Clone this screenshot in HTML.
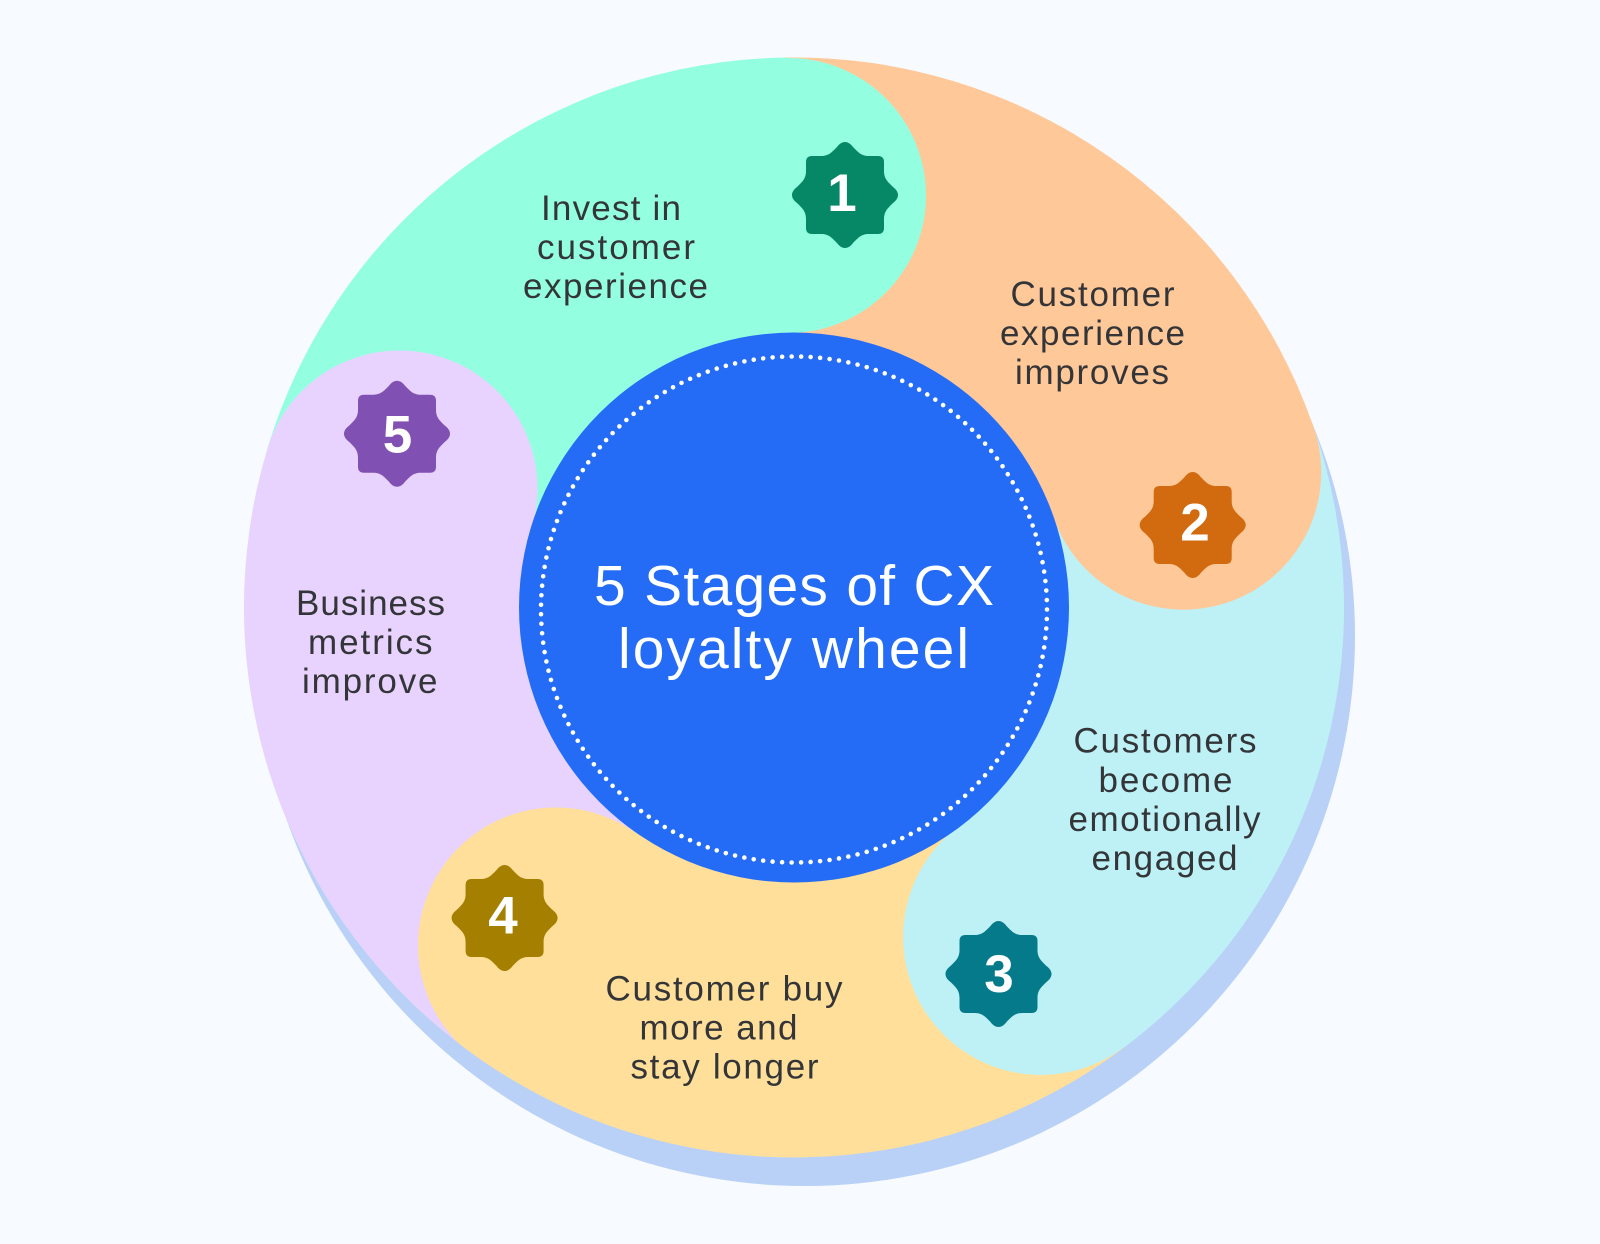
<!DOCTYPE html>
<html>
<head>
<meta charset="utf-8">
<style>
html,body{margin:0;padding:0;background:#f7faff;}
svg{display:block;}
text{font-family:"Liberation Sans",sans-serif;}
.l{font-size:35px;fill:#333538;}
.t{font-size:57px;fill:#ffffff;}
.n{font-size:53px;font-weight:bold;fill:#ffffff;text-anchor:middle;}
</style>
</head>
<body>
<svg width="1600" height="1244" viewBox="0 0 1600 1244" xmlns="http://www.w3.org/2000/svg">
<defs>
<clipPath id="c"><circle cx="794" cy="607.5" r="550"/></clipPath>
<path id="b" d="M0,-53 C2.5,-53 5.5,-51.5 8,-48 C13,-43 16,-39 24,-39 H33 Q39,-39 39,-33 V-24 C39,-16 43,-13 48,-8 C51.5,-5.5 53,-2.5 53,0 C53,2.5 51.5,5.5 48,8 C43,13 39,16 39,24 V33 Q39,39 33,39 H24 C16,39 13,43 8,48 C5.5,51.5 2.5,53 0,53 C-2.5,53 -5.5,51.5 -8,48 C-13,43 -16,39 -24,39 H-33 Q-39,39 -39,33 V24 C-39,16 -43,13 -48,8 C-51.5,5.5 -53,2.5 -53,0 C-53,-2.5 -51.5,-5.5 -48,-8 C-43,-13 -39,-16 -39,-24 V-33 Q-39,-39 -33,-39 H-24 C-16,-39 -13,-43 -8,-48 C-5.5,-51.5 -2.5,-53 0,-53 Z"/>
</defs>
<rect width="1600" height="1244" fill="#f7faff"/>
<circle cx="805" cy="636" r="550" fill="#b9d1f7"/>

<path d="M794,607.5 L786.7,57.5 A550,550 0 0 1 1313.5,426.8 Z" fill="#ffc898"/>
<path d="M794,607.5 L1313.5,426.8 A550,550 0 0 1 1123.9,1047.6 Z" fill="#bdf1f5"/>
<path d="M794,607.5 L1123.9,1047.6 A550,550 0 0 1 477.4,1057.2 Z" fill="#ffdf99"/>
<path d="M794,607.5 L477.4,1057.2 A550,550 0 0 1 267.4,448.7 Z" fill="#e7d3fe"/>
<path d="M794,607.5 L267.4,448.7 A550,550 0 0 1 786.7,57.5 Z" fill="#94ffe0"/>

<g clip-path="url(#c)">
<circle cx="788.5" cy="195.5" r="137.5" fill="#94ffe0"/>
<circle cx="1183.5" cy="472" r="137.7" fill="#ffc898"/>
<circle cx="1041" cy="937" r="137.9" fill="#bdf1f5"/>
<circle cx="556" cy="945.5" r="138" fill="#ffdf99"/>
<circle cx="399.5" cy="488.5" r="138" fill="#e7d3fe"/>
</g>

<circle cx="794" cy="607.5" r="275" fill="#246bf5"/>
<circle cx="794" cy="609.5" r="253" fill="none" stroke="#ffffff" stroke-width="4.6" stroke-linecap="round" stroke-dasharray="0 9.518"/>

<text class="t" x="594" y="605" textLength="400" lengthAdjust="spacing">5 Stages of CX</text>
<text class="t" x="618" y="668" textLength="351" lengthAdjust="spacing">loyalty wheel</text>

<use href="#b" x="845" y="195" fill="#068766"/>
<use href="#b" x="1192.7" y="525" fill="#d26a10"/>
<use href="#b" x="998.5" y="974" fill="#057a8a"/>
<use href="#b" x="504.6" y="918" fill="#a58000"/>
<use href="#b" x="397" y="433.7" fill="#8150b3"/>

<text class="n" x="842" y="211">1</text>
<text class="n" x="1195" y="540.5">2</text>
<text class="n" x="999" y="992">3</text>
<text class="n" x="503" y="933.5">4</text>
<text class="n" x="397.5" y="452.5">5</text>

<text class="l" x="541" y="220" textLength="140" lengthAdjust="spacing">Invest in</text>
<text class="l" x="537" y="259" textLength="158" lengthAdjust="spacing">customer</text>
<text class="l" x="523" y="298" textLength="185" lengthAdjust="spacing">experience</text>

<text class="l" x="1010.5" y="306" textLength="164" lengthAdjust="spacing">Customer</text>
<text class="l" x="1000" y="345" textLength="185" lengthAdjust="spacing">experience</text>
<text class="l" x="1015" y="384" textLength="154" lengthAdjust="spacing">improves</text>

<text class="l" x="1073.5" y="752.5" textLength="183" lengthAdjust="spacing">Customers</text>
<text class="l" x="1098.5" y="792" textLength="134" lengthAdjust="spacing">become</text>
<text class="l" x="1068.5" y="831" textLength="192" lengthAdjust="spacing">emotionally</text>
<text class="l" x="1091.5" y="870" textLength="146" lengthAdjust="spacing">engaged</text>

<text class="l" x="605.5" y="1000.5" textLength="237" lengthAdjust="spacing">Customer buy</text>
<text class="l" x="639.5" y="1039.5" textLength="158" lengthAdjust="spacing">more and</text>
<text class="l" x="630.5" y="1078.5" textLength="188" lengthAdjust="spacing">stay longer</text>

<text class="l" x="296" y="615" textLength="149" lengthAdjust="spacing">Business</text>
<text class="l" x="308" y="654" textLength="124.5" lengthAdjust="spacing">metrics</text>
<text class="l" x="302" y="693" textLength="135.5" lengthAdjust="spacing">improve</text>
</svg>
</body>
</html>
